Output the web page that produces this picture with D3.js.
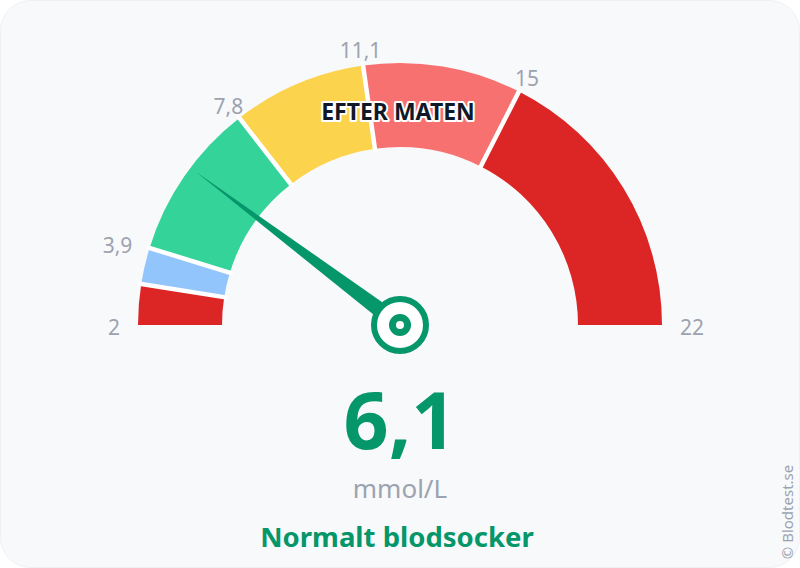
<!DOCTYPE html>
<html><head><meta charset="utf-8">
<script src="https://cdn.jsdelivr.net/npm/d3@7"></script>
<style>html,body{margin:0;padding:0;background:#fff;}svg{display:block;}</style>
</head><body>
<svg id="c" width="800" height="568"></svg>
<script>
// ---- data ----
const domainMin = 2, domainMax = 22;
const segStarts = [2, 3, 3.9, 7.8, 11.1, 15];
const segEnds   = [3, 3.9, 7.8, 11.1, 15, 22];
const segColors = ["#dc2626", "#93c5fd", "#34d399", "#fcd34d", "#f87171", "#dc2626"];
const tickValues = [2, 3.9, 7.8, 11.1, 15, 22];
const tickLabels = ["2", "3,9", "7,8", "11,1", "15", "22"];
const currentValue = 6.1;
const valueLabel = "6,1";
const unitLabel = "mmol/L";
const statusLabel = "Normalt blodsocker";
const mealLabel = "EFTER MATEN";
const creditLabel = "© Blodtest.se";

const svg = d3.select("#c");
const W = 800, H = 568;
const cx = 400, cy = 325, rOuter = 262, rInner = 178, rLabel = 280;
const green = "#059669", gray = "#9ca3af";
const font = "'Noto Sans', 'Open Sans', sans-serif";

// card
svg.append("rect").attr("x", 0.5).attr("y", 0.5).attr("width", W - 1).attr("height", H - 1)
  .attr("rx", 30).attr("fill", "#f8f9fb").attr("stroke", "#eef0f4");

// angle scale: value -> radians (d3.arc convention: 0 = up, clockwise)
const ang = d3.scaleLinear().domain([domainMin, domainMax]).range([-Math.PI / 2, Math.PI / 2]);

const g = svg.append("g").attr("transform", `translate(${cx},${cy})`);
const arc = d3.arc().innerRadius(rInner).outerRadius(rOuter);

g.selectAll("path.seg").data(segStarts.map((s, i) => ({ s, e: segEnds[i], c: segColors[i] })))
  .join("path").attr("class", "seg")
  .attr("d", d => arc({ startAngle: ang(d.s), endAngle: ang(d.e) }))
  .attr("fill", d => d.c);

// separators
g.selectAll("line.sep").data(segEnds.slice(0, -1)).join("line").attr("class", "sep")
  .attr("x1", d => (rInner - 3) * Math.sin(ang(d))).attr("y1", d => -(rInner - 3) * Math.cos(ang(d)))
  .attr("x2", d => (rOuter + 3) * Math.sin(ang(d))).attr("y2", d => -(rOuter + 3) * Math.cos(ang(d)))
  .attr("stroke", "#fff").attr("stroke-width", 4.5);

// tick labels
g.selectAll("text.tick").data(tickValues.map((v, i) => ({ v, l: tickLabels[i] })))
  .join("text").attr("class", "tick")
  .attr("x", d => rLabel * Math.sin(ang(d.v)))
  .attr("y", d => -rLabel * Math.cos(ang(d.v)) + 2)
  .attr("text-anchor", d => {
    const a = ang(d.v);
    if (a < -Math.PI / 3) return "end";
    if (a > Math.PI / 3) return "start";
    return "middle";
  })
  .attr("dominant-baseline", "central")
  .attr("font-family", font).attr("font-size", 21).attr("fill", gray)
  .text(d => d.l);

// meal label
svg.append("text").attr("x", 398).attr("y", 120).attr("text-anchor", "middle")
  .attr("font-family", font).attr("font-weight", 700).attr("font-size", 23)
  .attr("fill", "#111827").attr("stroke", "#fff").attr("stroke-width", 4)
  .attr("stroke-linejoin", "round").attr("paint-order", "stroke")
  .text(mealLabel);

// needle
const a = ang(currentValue);
const len = 255, hw = 8.5;
const tip = [len * Math.sin(a), -len * Math.cos(a)];
const px = Math.cos(a) * hw, py = Math.sin(a) * hw;
g.append("path").attr("d", `M${px},${py}L${tip[0]},${tip[1]}L${-px},${-py}Z`).attr("fill", green);

g.append("circle").attr("r", 26).attr("fill", "#fff").attr("stroke", green).attr("stroke-width", 6);
g.append("circle").attr("r", 11).attr("fill", green);
g.append("circle").attr("r", 4).attr("fill", "#fff");

// value texts
svg.append("text").attr("x", 400).attr("y", 449).attr("text-anchor", "middle")
  .attr("font-family", font).attr("font-weight", 700).attr("font-size", 79)
  .attr("fill", green)
  .text(valueLabel);
svg.append("text").attr("x", 400).attr("y", 498).attr("text-anchor", "middle")
  .attr("font-family", font).attr("font-size", 26).attr("fill", gray)
  .text(unitLabel);
svg.append("text").attr("x", 397).attr("y", 547).attr("text-anchor", "middle")
  .attr("font-family", font).attr("font-weight", 700).attr("font-size", 27.5).attr("fill", green)
  .text(statusLabel);

svg.append("text").attr("transform", "translate(787,512) rotate(-90)")
  .attr("text-anchor", "middle").attr("dominant-baseline", "central")
  .attr("font-family", font).attr("font-size", 15).attr("fill", gray)
  .text(creditLabel);
</script>
</body></html>
